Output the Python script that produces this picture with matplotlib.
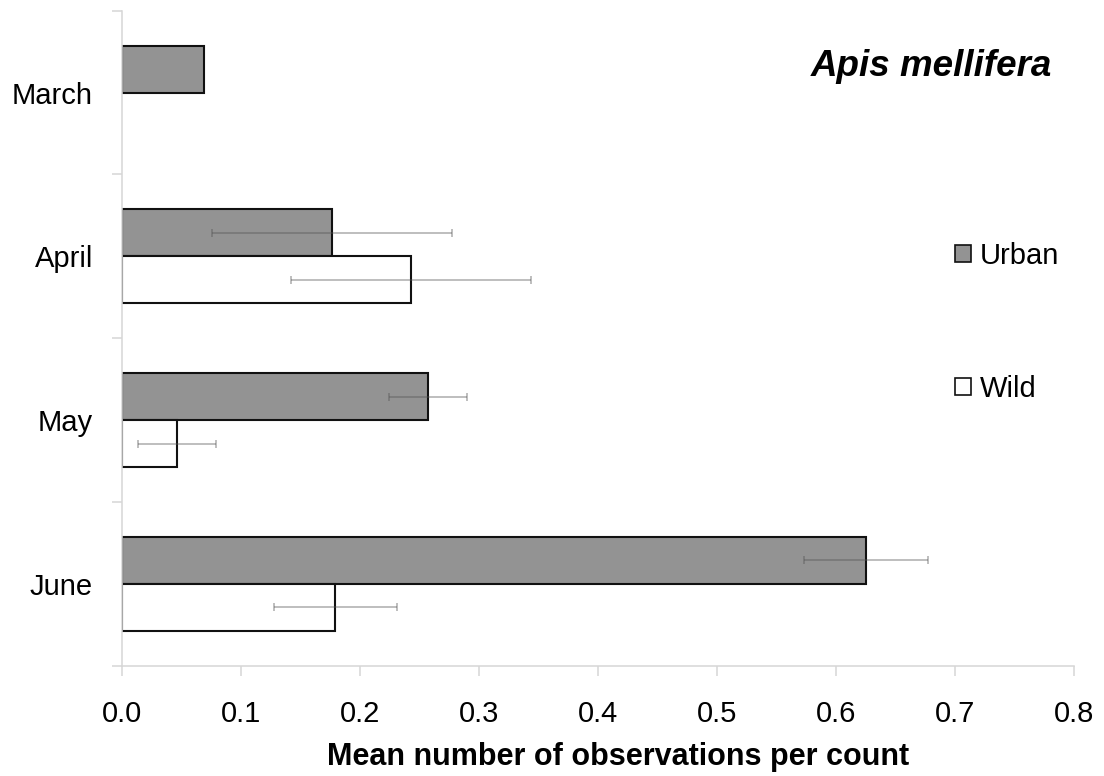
import matplotlib
matplotlib.use("Agg")
import matplotlib.pyplot as plt
import numpy as np
from matplotlib.patches import Patch
from matplotlib.ticker import FixedLocator

months = ["March", "April", "May", "June"]
urban = [0.0687, 0.1762, 0.2569, 0.6250]
urban_err = [np.nan, 0.101, 0.0327, 0.0517]
wild = [np.nan, 0.2429, 0.0465, 0.1793]
wild_err = [np.nan, 0.101, 0.0327, 0.0514]
xticks = [0.0, 0.1, 0.2, 0.3, 0.4, 0.5, 0.6, 0.7, 0.8]
title = "Apis mellifera"
xlabel = "Mean number of observations per count"

plt.rcParams['font.family'] = ['Liberation Sans', 'DejaVu Sans']

fig = plt.figure(figsize=(11.04, 7.76), dpi=100)
ax = fig.add_axes([122/1104, 1-665.7/776, (1074.3-122)/1104, (665.7-10.7)/776])

y = np.arange(len(months))
h = 0.287
ax.barh(y - h/2, urban, height=h, color='#939393', edgecolor='#111111', linewidth=1.5, zorder=2)
mask = ~np.isnan(np.array(wild))
ax.barh(y[mask] + h/2, np.array(wild)[mask], height=h, color='white', edgecolor='#111111', linewidth=1.5, zorder=2)

um = ~np.isnan(np.array(urban_err))
ax.errorbar(np.array(urban)[um], (y - h/2)[um], xerr=np.array(urban_err)[um], fmt='none',
            ecolor='#555555', alpha=0.45, elinewidth=1.2, capsize=3, capthick=1.2, zorder=3)
wm = ~np.isnan(np.array(wild_err))
ax.errorbar(np.array(wild)[wm], (y + h/2)[wm], xerr=np.array(wild_err)[wm], fmt='none',
            ecolor='#555555', alpha=0.45, elinewidth=1.2, capsize=3, capthick=1.2, zorder=3)

ax.set_xlim(0, 0.8)
ax.set_ylim(3.5, -0.5)
ax.set_xticks(xticks)
ax.set_xticklabels([f"{t:.1f}" for t in xticks], fontsize=21)
ax.set_yticks(y)
ax.set_yticklabels(months, fontsize=21)
ax.yaxis.set_minor_locator(FixedLocator([-0.5, 0.5, 1.5, 2.5, 3.5]))
ax.tick_params(axis='y', which='major', length=0, pad=21)
ax.tick_params(axis='y', which='minor', length=7, width=1.1, color='#d6d6d6', direction='out')
ax.tick_params(axis='x', which='major', length=7, width=1.1, color='#d6d6d6', direction='out', pad=18)

for s in ['top', 'right']:
    ax.spines[s].set_visible(False)
for s in ['left', 'bottom']:
    ax.spines[s].set_color('#d6d6d6')
    ax.spines[s].set_linewidth(1.1)

fig.text(618.5/1104, 1-757/776, xlabel, fontsize=22, fontweight='bold', ha='center', va='center')
fig.text(1052/1104, 1-67/776, title, fontsize=26.5, fontweight='bold', style='italic', ha='right', va='center')

handles = [Patch(facecolor='#939393', edgecolor='#111111', linewidth=1.2, label='Urban'),
           Patch(facecolor='white', edgecolor='#111111', linewidth=1.2, label='Wild')]
leg = ax.legend(handles=handles, loc='upper left', bbox_to_anchor=(955/1104, 1-242/776),
                bbox_transform=fig.transFigure, frameon=False, fontsize=21,
                handlelength=0.55, handleheight=0.55, handletextpad=0.3, labelspacing=3.6,
                borderpad=0, borderaxespad=0)

fig.savefig("out.png", dpi=100)
